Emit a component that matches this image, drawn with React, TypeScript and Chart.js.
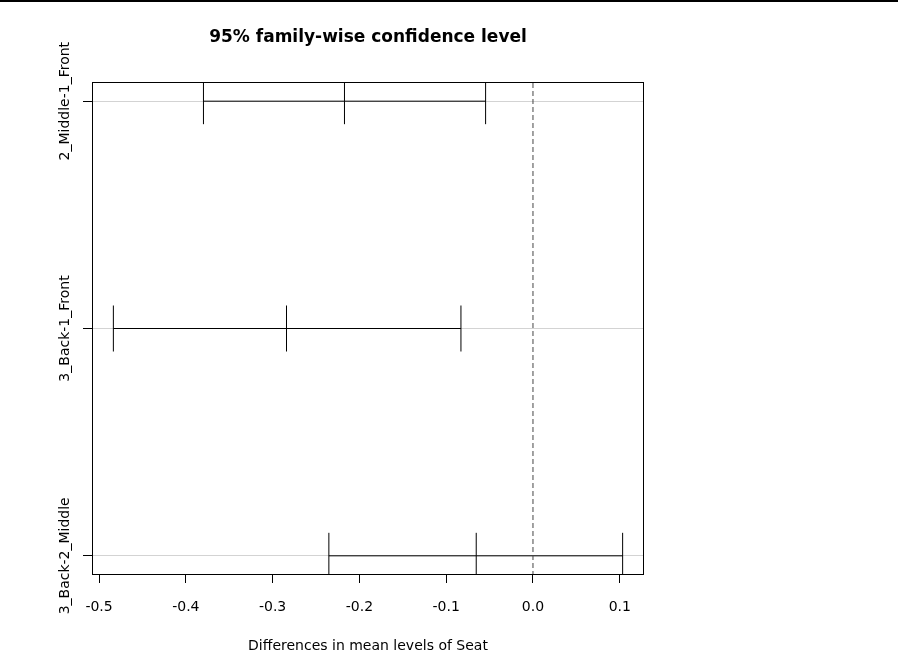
import React, { useEffect, useRef } from "react";
import { Chart, registerables } from "chart.js";

Chart.register(...registerables);

const comparisons = ["2_Middle-1_Front", "3_Back-1_Front", "3_Back-2_Middle"];
const diffValues = [-0.2172, -0.284, -0.0654];
const lowerValues = [-0.3797, -0.4835, -0.2352];
const upperValues = [-0.0546, -0.083, 0.1033];
const xTickValues = [-0.5, -0.4, -0.3, -0.2, -0.1, 0.0, 0.1];
const titleText = "95% family-wise confidence level";
const xAxisTitle = "Differences in mean levels of Seat";

const FONT = "'DejaVu Sans', 'Liberation Sans', Arial, sans-serif";

export default function App() {
  const canvasRef = useRef<HTMLCanvasElement | null>(null);

  useEffect(() => {
    const canvas = canvasRef.current;
    if (!canvas) return;

    const lo = Math.min(...lowerValues);
    const hi = Math.max(...upperValues);
    const pad = 0.04 * (hi - lo);
    const xMin = lo - pad;
    const xMax = hi + pad;
    const n = comparisons.length;
    const yMin = 1 - 0.04 * (n - 1);
    const yMax = n + 0.04 * (n - 1);

    const rowDatasets = comparisons.map((name, i) => ({
      label: name,
      data: [
        { x: lowerValues[i], y: i + 1 },
        { x: diffValues[i], y: i + 1 },
        { x: upperValues[i], y: i + 1 },
      ],
      showLine: true,
      borderColor: "#000",
      borderWidth: 1,
      pointStyle: "line" as const,
      pointRotation: 90,
      pointRadius: 23,
      pointHoverRadius: 23,
      pointBorderColor: "#000",
      pointBorderWidth: 1,
      pointBackgroundColor: "#000",
    }));

    const zeroLine = {
      label: "zero",
      data: [
        { x: 0, y: yMin },
        { x: 0, y: yMax },
      ],
      showLine: true,
      borderColor: "#444",
      borderWidth: 1,
      borderDash: [5, 3],
      pointRadius: 0,
      pointHoverRadius: 0,
    };

    const decorPlugin = {
      id: "decor",
      beforeDraw(chart: any) {
        const { ctx, width } = chart;
        ctx.save();
        ctx.fillStyle = "#fff";
        ctx.fillRect(0, 0, chart.width, chart.height);
        ctx.fillStyle = "#000";
        ctx.fillRect(0, 0, width, 2);
        ctx.restore();
      },
      afterDraw(chart: any) {
        const { ctx, chartArea } = chart;
        const { left, right, top, bottom } = chartArea;
        ctx.save();
        ctx.strokeStyle = "#000";
        ctx.lineWidth = 1;
        ctx.strokeRect(left - 0.5, top - 0.5, right - left + 1, bottom - top + 1);

        const cx = (left + right) / 2;
        ctx.fillStyle = "#000";
        ctx.textAlign = "center";
        ctx.textBaseline = "alphabetic";
        ctx.font = `bold 17px ${FONT}`;
        ctx.fillText(titleText, cx, 42);

        ctx.font = `14px ${FONT}`;
        ctx.fillText(xAxisTitle, cx, 650);

        const yScale = chart.scales.y;
        comparisons.forEach((name, i) => {
          const py = yScale.getPixelForValue(i + 1);
          ctx.save();
          ctx.translate(68.5, py);
          ctx.rotate(-Math.PI / 2);
          ctx.textAlign = "center";
          ctx.textBaseline = "alphabetic";
          ctx.fillText(name, 0, 0);
          ctx.restore();
        });
        ctx.restore();
      },
    };

    const chart = new Chart(canvas, {
      type: "scatter",
      data: { datasets: [zeroLine, ...rowDatasets] as any },
      options: {
        animation: false,
        responsive: false,
        devicePixelRatio: 1,
        events: [],
        layout: { padding: { left: 0, top: 83, right: 255, bottom: 0 } },
        plugins: {
          legend: { display: false },
          tooltip: { enabled: false },
          title: { display: false },
        },
        scales: {
          x: {
            type: "linear",
            min: xMin,
            max: xMax,
            afterBuildTicks: (scale: any) => {
              scale.ticks = xTickValues.map((v) => ({ value: v }));
            },
            afterFit: (scale: any) => {
              scale.height = 96;
            },
            border: { display: false },
            grid: {
              drawOnChartArea: false,
              drawTicks: true,
              tickLength: 9,
              tickColor: "#000",
              tickWidth: 1,
            },
            ticks: {
              color: "#000",
              font: { family: FONT, size: 14 },
              padding: 16,
              maxRotation: 0,
              minRotation: 0,
              callback: (v: any) => Number(v).toFixed(1),
            },
          },
          y: {
            type: "linear",
            min: yMin,
            max: yMax,
            reverse: true,
            afterBuildTicks: (scale: any) => {
              scale.ticks = comparisons.map((_, i) => ({ value: i + 1 }));
            },
            afterFit: (scale: any) => {
              scale.width = 93;
            },
            border: { display: false },
            grid: {
              color: "#d3d3d3",
              lineWidth: 1,
              drawOnChartArea: true,
              drawTicks: true,
              tickLength: 10,
              tickColor: "#000",
              tickWidth: 1,
            },
            ticks: { display: false },
          },
        },
      },
      plugins: [decorPlugin],
    });

    return () => {
      chart.destroy();
    };
  }, []);

  return (
    <div
      style={{
        position: "fixed",
        left: 0,
        top: 0,
        width: 898,
        height: 670,
        background: "#fff",
      }}
    >
      <canvas ref={canvasRef} width={898} height={670} style={{ display: "block" }} />
    </div>
  );
}
